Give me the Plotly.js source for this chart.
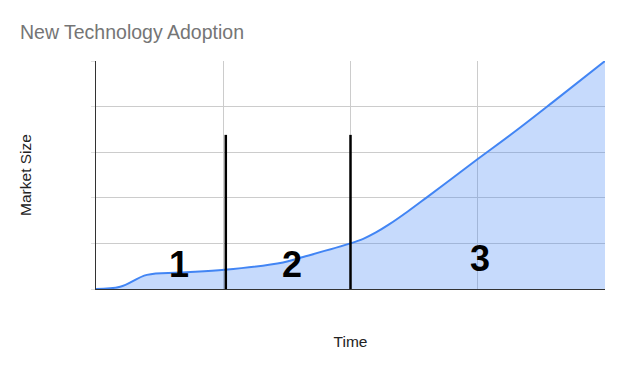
<!DOCTYPE html>
<html>
<head>
<meta charset="utf-8">
<script src="https://cdn.plot.ly/plotly-3.0.1.min.js"></script>
<style>html,body{margin:0;padding:0;background:#fff;}#chart{width:624px;height:371px;}</style>
</head>
<body>
<div id="chart"></div>
<script>
// Time (x) and market size (y)
var timeValues = [0, 0.19, 0.40, 0.66, 1.01, 1.47, 1.60, 2.00, 2.10, 2.20, 2.30, 2.45, 2.60, 2.80, 3.00, 3.30, 3.60, 4.00];
var marketSize = [0, 0.05, 0.31, 0.36, 0.42, 0.58, 0.68, 1.00, 1.10, 1.24, 1.41, 1.70, 2.01, 2.43, 2.85, 3.47, 4.12, 5.00];

// Hand-drawn phase dividers (x positions) and their vertical extent
var dividerX = [1.02, 2.00];
var dividerTop = 3.38;

// Phase labels
var phaseLabels = ["1", "2", "3"];
var phaseLabelX = [0.65, 1.54, 3.02];
var phaseLabelY = [0.53, 0.53, 0.66];

var trace = {
  x: timeValues,
  y: marketSize,
  type: 'scatter',
  mode: 'lines',
  line: {color: '#4285f4', width: 2, shape: 'spline', smoothing: 1},
  fill: 'tozeroy',
  fillcolor: 'rgba(66,133,244,0.3)',
  hoverinfo: 'skip'
};

var shapes = dividerX.map(function (x) {
  return {type: 'line', xref: 'x', yref: 'y', x0: x, x1: x, y0: -0.05, y1: dividerTop,
          line: {color: '#000', width: 2.5}};
});

var annotations = phaseLabels.map(function (t, i) {
  return {x: phaseLabelX[i], y: phaseLabelY[i], xref: 'x', yref: 'y', text: '<b>' + t + '</b>',
          showarrow: false, font: {family: 'Liberation Sans, Arial, sans-serif', size: 36, color: '#000'}};
});

var layout = {
  width: 624, height: 371,
  margin: {l: 96, r: 19, t: 61, b: 82, pad: 0},
  paper_bgcolor: '#fff', plot_bgcolor: '#fff',
  showlegend: false,
  font: {family: 'Liberation Sans, Arial, sans-serif', color: '#222'},
  title: {text: 'New Technology Adoption', x: 0.032, xanchor: 'left', y: 0.914, yanchor: 'middle',
          font: {size: 19.5, color: '#757575', family: 'Liberation Sans, Arial, sans-serif'}},
  xaxis: {
    range: [0, 4], dtick: 1, tick0: 0, showticklabels: false, ticks: '',
    showgrid: true, gridcolor: '#cccccc', gridwidth: 1, zeroline: false,
    showline: true, linecolor: '#333', linewidth: 1, fixedrange: true,
    title: {text: 'Time', font: {size: 15.5, color: '#222'}, standoff: 47}
  },
  yaxis: {
    range: [0, 5], dtick: 1, tick0: 0, showticklabels: false, ticks: 'outside', ticklen: 4, tickcolor: '#e0e0e0',
    showgrid: true, gridcolor: '#cccccc', gridwidth: 1, zeroline: false,
    showline: true, linecolor: '#333', linewidth: 1, fixedrange: true,
    title: {text: 'Market Size', font: {size: 15.5, color: '#222'}, standoff: 55}
  },
  shapes: shapes,
  annotations: annotations
};

Plotly.newPlot('chart', [trace], layout, {displayModeBar: false, staticPlot: true});
</script>
</body>
</html>
